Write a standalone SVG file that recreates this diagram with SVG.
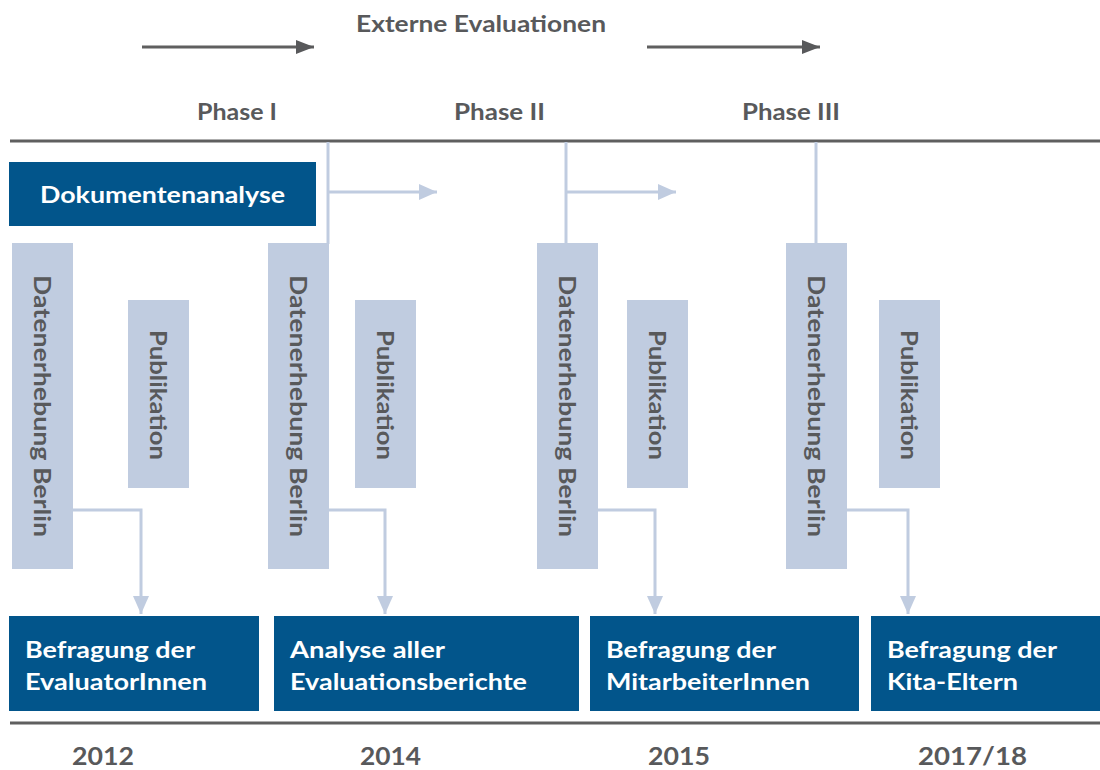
<svg xmlns="http://www.w3.org/2000/svg" width="1100" height="770" viewBox="0 0 1100 770">
<style>
.t{font-family:Lato,"Open Sans","Liberation Sans",sans-serif;font-weight:bold}
.g{fill:#58595b}
.w{fill:#ffffff}
.dark{fill:#02558b}
.light{fill:#c0cce0}
.c{stroke:#c0cce0;stroke-width:3;fill:none}
.gl{stroke:#5f5f5f;stroke-width:3;fill:none}
</style>
<defs>
<marker id="ah" markerUnits="userSpaceOnUse" markerWidth="18" markerHeight="16" refX="18" refY="8" orient="auto"><path d="M0,0 L18,8 L0,16 Z" fill="#c0cce0"/></marker>
<marker id="ahg" markerUnits="userSpaceOnUse" markerWidth="18" markerHeight="14" refX="18" refY="7" orient="auto"><path d="M0,0 L18,7 L0,14 Z" fill="#58595b"/></marker>
</defs>
<rect width="1100" height="770" fill="#ffffff"/>

<g id="header">
<text class="t g" x="356" y="32" font-size="23" textLength="250" lengthAdjust="spacingAndGlyphs">Externe Evaluationen</text>
<line class="gl" x1="142" y1="47" x2="314" y2="47" marker-end="url(#ahg)"/>
<line class="gl" x1="647" y1="47" x2="820" y2="47" marker-end="url(#ahg)"/>
<text class="t g" x="197" y="120" font-size="23" textLength="80" lengthAdjust="spacingAndGlyphs">Phase I</text>
<text class="t g" x="454" y="120" font-size="23" textLength="91" lengthAdjust="spacingAndGlyphs">Phase II</text>
<text class="t g" x="742" y="120" font-size="23" textLength="98" lengthAdjust="spacingAndGlyphs">Phase III</text>
<line x1="10" y1="141" x2="1100" y2="141" stroke="#5f5f5f" stroke-width="3"/>
<line x1="10" y1="723" x2="1100" y2="723" stroke="#5f5f5f" stroke-width="3"/>
</g>

<g id="connectors">
<line class="c" x1="328" y1="142" x2="328" y2="244"/>
<line class="c" x1="328" y1="192" x2="437" y2="192" marker-end="url(#ah)"/>
<line class="c" x1="566" y1="142" x2="566" y2="244"/>
<line class="c" x1="566" y1="192" x2="676" y2="192" marker-end="url(#ah)"/>
<line class="c" x1="816" y1="142" x2="816" y2="244"/>
<polyline class="c" points="73,510 141,510 141,614" marker-end="url(#ah)"/>
<polyline class="c" points="329,510 385,510 385,614" marker-end="url(#ah)"/>
<polyline class="c" points="598,510 655,510 655,614" marker-end="url(#ah)"/>
<polyline class="c" points="847,510 908,510 908,614" marker-end="url(#ah)"/>
</g>

<g id="dokumentenanalyse">
<rect class="dark" x="9" y="162" width="307" height="64"/>
<text class="t w" x="40" y="203" font-size="23" textLength="245" lengthAdjust="spacingAndGlyphs">Dokumentenanalyse</text>
</g>

<g id="daten1">
<rect class="light" x="12" y="243" width="61" height="326"/>
<text class="t g" transform="translate(34,275) rotate(90)" font-size="23" textLength="262" lengthAdjust="spacingAndGlyphs">Datenerhebung Berlin</text>
</g>
<g id="pub1">
<rect class="light" x="128" y="300" width="61" height="188"/>
<text class="t g" transform="translate(150,330) rotate(90)" font-size="23" textLength="130" lengthAdjust="spacingAndGlyphs">Publikation</text>
</g>
<g id="daten2">
<rect class="light" x="268" y="243" width="61" height="326"/>
<text class="t g" transform="translate(290,275) rotate(90)" font-size="23" textLength="262" lengthAdjust="spacingAndGlyphs">Datenerhebung Berlin</text>
</g>
<g id="pub2">
<rect class="light" x="355" y="300" width="61" height="188"/>
<text class="t g" transform="translate(377,330) rotate(90)" font-size="23" textLength="130" lengthAdjust="spacingAndGlyphs">Publikation</text>
</g>
<g id="daten3">
<rect class="light" x="537" y="243" width="61" height="326"/>
<text class="t g" transform="translate(559,275) rotate(90)" font-size="23" textLength="262" lengthAdjust="spacingAndGlyphs">Datenerhebung Berlin</text>
</g>
<g id="pub3">
<rect class="light" x="627" y="300" width="61" height="188"/>
<text class="t g" transform="translate(649,330) rotate(90)" font-size="23" textLength="130" lengthAdjust="spacingAndGlyphs">Publikation</text>
</g>
<g id="daten4">
<rect class="light" x="786" y="243" width="61" height="326"/>
<text class="t g" transform="translate(808,275) rotate(90)" font-size="23" textLength="262" lengthAdjust="spacingAndGlyphs">Datenerhebung Berlin</text>
</g>
<g id="pub4">
<rect class="light" x="879" y="300" width="61" height="188"/>
<text class="t g" transform="translate(901,330) rotate(90)" font-size="23" textLength="130" lengthAdjust="spacingAndGlyphs">Publikation</text>
</g>

<g id="box1">
<rect class="dark" x="9" y="616" width="250" height="95"/>
<text class="t w" x="25" y="658" font-size="23" textLength="170" lengthAdjust="spacingAndGlyphs">Befragung der</text>
<text class="t w" x="25" y="690" font-size="23" textLength="182" lengthAdjust="spacingAndGlyphs">EvaluatorInnen</text>
</g>
<g id="box2">
<rect class="dark" x="274" y="616" width="305" height="95"/>
<text class="t w" x="290" y="658" font-size="23" textLength="155" lengthAdjust="spacingAndGlyphs">Analyse aller</text>
<text class="t w" x="290" y="690" font-size="23" textLength="237" lengthAdjust="spacingAndGlyphs">Evaluationsberichte</text>
</g>
<g id="box3">
<rect class="dark" x="590" y="616" width="269" height="95"/>
<text class="t w" x="606" y="658" font-size="23" textLength="170" lengthAdjust="spacingAndGlyphs">Befragung der</text>
<text class="t w" x="606" y="690" font-size="23" textLength="204" lengthAdjust="spacingAndGlyphs">MitarbeiterInnen</text>
</g>
<g id="box4">
<rect class="dark" x="871" y="616" width="229" height="95"/>
<text class="t w" x="887" y="658" font-size="23" textLength="170" lengthAdjust="spacingAndGlyphs">Befragung der</text>
<text class="t w" x="887" y="690" font-size="23" textLength="131" lengthAdjust="spacingAndGlyphs">Kita-Eltern</text>
</g>

<g id="years">
<text class="t g" x="72" y="765" font-size="25" textLength="62" lengthAdjust="spacingAndGlyphs">2012</text>
<text class="t g" x="360" y="765" font-size="25" textLength="61" lengthAdjust="spacingAndGlyphs">2014</text>
<text class="t g" x="648" y="765" font-size="25" textLength="62" lengthAdjust="spacingAndGlyphs">2015</text>
<text class="t g" x="918" y="765" font-size="25" textLength="109" lengthAdjust="spacingAndGlyphs">2017/18</text>
</g>
</svg>
